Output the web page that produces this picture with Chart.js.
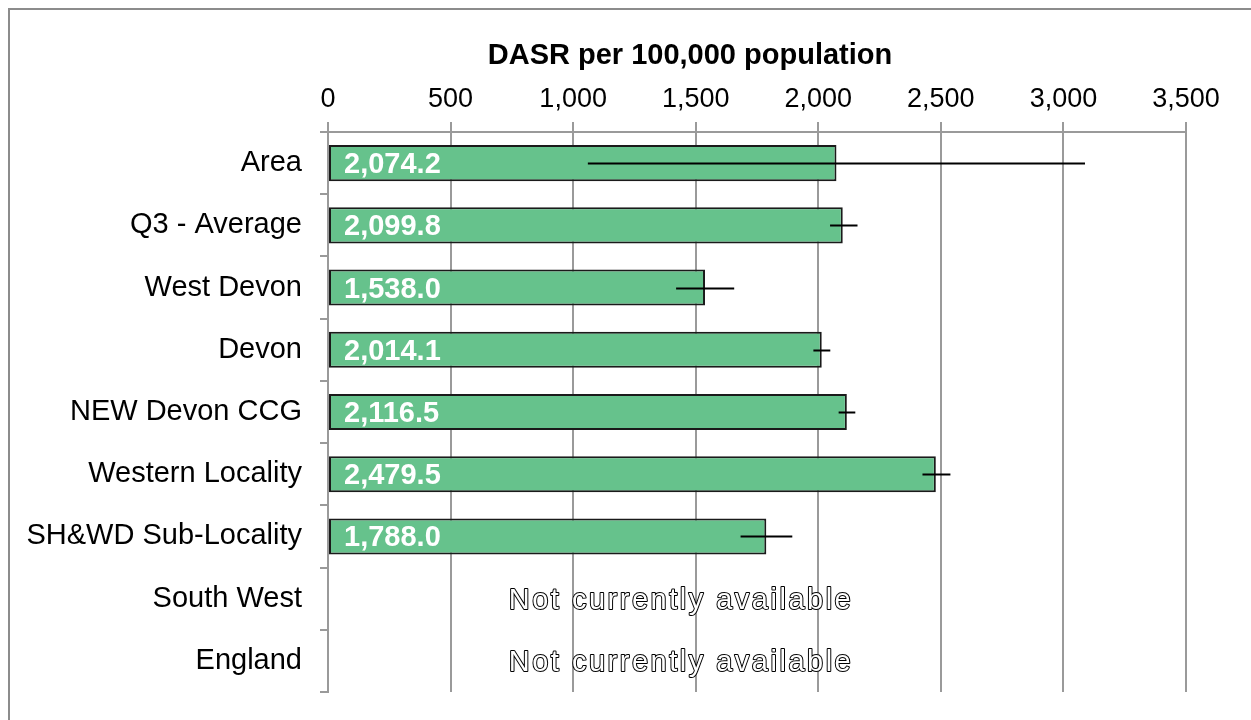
<!DOCTYPE html>
<html>
<head>
<meta charset="utf-8">
<script src="https://cdn.jsdelivr.net/npm/chart.js@4/dist/chart.umd.min.js"></script>
<style>
  html, body { margin: 0; padding: 0; background: #fff; }
  body { width: 1251px; height: 720px; overflow: hidden; position: relative; }
  #frame { position: absolute; left: 8px; top: 8px; width: 1400px; height: 800px; border: 2px solid #8c8c8c; box-sizing: border-box; }
  #wrap { position: absolute; left: 0; top: 0; width: 1251px; height: 720px; }
</style>
</head>
<body>
<div id="frame"></div>
<div id="wrap"><canvas id="chart" width="1251" height="720"></canvas></div>
<script>
'use strict';

var categories = ['Area', 'Q3 - Average', 'West Devon', 'Devon', 'NEW Devon CCG',
  'Western Locality', 'SH&WD Sub-Locality', 'South West', 'England'];
var rates = [2074.2, 2099.8, 1538.0, 2014.1, 2116.5, 2479.5, 1788.0, null, null];
var lowerCI = [1060, 2048, 1420, 1980, 2083, 2425, 1683, null, null];
var upperCI = [3088, 2160, 1657, 2049, 2151, 2539, 1894, null, null];
var xTicks = [0, 500, 1000, 1500, 2000, 2500, 3000, 3500];
var axisTitle = 'DASR per 100,000 population';
var missingText = 'Not currently available';

var FONT = '"Liberation Sans", Arial, sans-serif';
var ctx = document.getElementById('chart').getContext('2d');

var overlay = {
  id: 'overlay',
  afterDatasetsDraw: function(chart) {
    var c = chart.ctx;
    var xs = chart.scales.x;
    var ys = chart.scales.y;
    c.save();
    // error bars
    c.strokeStyle = '#000';
    c.lineWidth = 2;
    for (var i = 0; i < categories.length; i++) {
      if (lowerCI[i] === null) continue;
      var y = Math.round(ys.getPixelForValue(i)) + 0.5;
      c.beginPath();
      c.moveTo(xs.getPixelForValue(lowerCI[i]), y);
      c.lineTo(xs.getPixelForValue(upperCI[i]), y);
      c.stroke();
    }
    // value labels
    c.font = 'bold 29px ' + FONT;
    c.fillStyle = '#fff';
    c.textAlign = 'left';
    c.textBaseline = 'middle';
    for (var j = 0; j < categories.length; j++) {
      if (rates[j] === null) continue;
      var label = rates[j].toLocaleString('en-GB', { minimumFractionDigits: 1, maximumFractionDigits: 1 });
      c.fillText(label, xs.getPixelForValue(0) + 16, ys.getPixelForValue(j) + 2);
    }
    // missing data notes
    c.font = '29px ' + FONT;
    c.letterSpacing = '2.5px';
    c.textAlign = 'center';
    c.lineWidth = 2;
    c.lineJoin = 'round';
    c.strokeStyle = '#000';
    c.fillStyle = '#fff';
    for (var k = 0; k < categories.length; k++) {
      if (rates[k] !== null) continue;
      var cx = xs.getPixelForValue(1440);
      var cy = ys.getPixelForValue(k) + 2;
      c.strokeText(missingText, cx, cy);
      c.fillText(missingText, cx, cy);
    }
    c.letterSpacing = '0px';
    // axis title
    c.font = 'bold 29px ' + FONT;
    c.fillStyle = '#000';
    c.fillText(axisTitle, 690, 56);
    c.restore();
  }
};

var chart = new Chart(ctx, {
  type: 'bar',
  data: {
    labels: categories,
    datasets: [{
      data: rates,
      backgroundColor: '#66c28c',
      borderColor: '#1a1a1a',
      borderWidth: 2,
      borderSkipped: false,
      categoryPercentage: 1,
      barPercentage: 0.58
    }]
  },
  plugins: [overlay],
  options: {
    indexAxis: 'y',
    responsive: false,
    animation: false,
    layout: { padding: { left: 0, right: 65, top: 30, bottom: 28 } },
    plugins: { legend: { display: false }, tooltip: { enabled: false } },
    scales: {
      x: {
        position: 'top',
        min: 0,
        max: 3500,
        afterBuildTicks: function(scale) {
          scale.ticks = xTicks.map(function(v) { return { value: v }; });
        },
        afterFit: function(scale) { scale.height = 102; },
        ticks: {
          color: '#000',
          padding: 6,
          font: { family: FONT, size: 27 },
          callback: function(v) { return Number(v).toLocaleString('en-GB'); }
        },
        grid: { color: '#9a9a9a', lineWidth: 2, tickLength: 10 },
        border: { color: '#9a9a9a', width: 2 }
      },
      y: {
        afterFit: function(scale) {
          scale.width = 328;
          scale.paddingTop = 0;
          scale.paddingBottom = 0;
        },
        ticks: {
          color: '#000',
          padding: 18,
          font: { family: FONT, size: 29 }
        },
        grid: { display: true, drawOnChartArea: false, offset: true, color: '#9a9a9a', lineWidth: 2, tickLength: 8 },
        border: { color: '#9a9a9a', width: 2 }
      }
    }
  }
});
</script>
</body>
</html>
